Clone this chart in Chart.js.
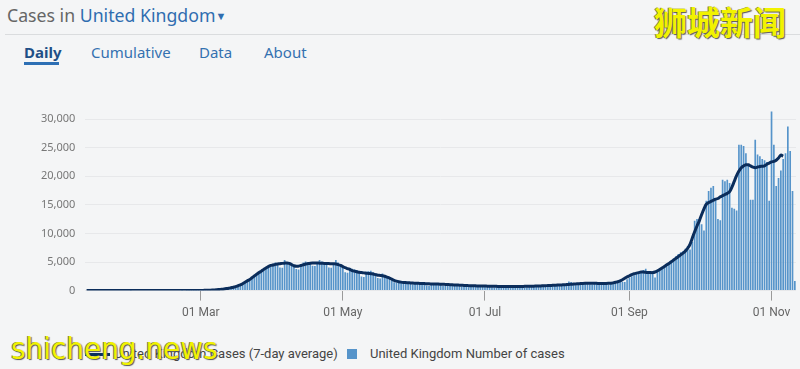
<!DOCTYPE html>
<html>
<head>
<meta charset="utf-8">
<script src="https://cdn.jsdelivr.net/npm/chart.js@4.4.0/dist/chart.umd.min.js"></script>
<style>
  body { margin: 0; width: 800px; height: 369px; background: #f4f5f6; position: relative; overflow: hidden; font-family: "Noto Sans", sans-serif; }
  #title { position: absolute; left: 7px; top: 1px; font-size: 17.7px; line-height: 28px; color: #666; }
  #title span { color: #2f6db0; }
  #title .caret { font-size: 11px; position: relative; top: -2px; }
  #rule { position: absolute; left: 5px; right: 0; top: 34px; border-top: 1px solid #dadcde; }
  .tab { position: absolute; top: 41px; font-size: 15px; line-height: 22px; color: #3471b0; }
  .tab.on { color: #1f4f86; font-weight: bold; }
  #bar { position: absolute; left: 24px; top: 62px; width: 35px; height: 3px; background: #2d6fb4; }
  #wrap { position: absolute; left: 0; top: 91px; width: 800px; height: 238px; }
  .leg { position: absolute; top: 345px; font-size: 13px; line-height: 18px; color: #444; font-family: "Liberation Sans Narrow", "Roboto", sans-serif; }
  .wm { position: absolute; color: #f2f200; text-shadow: 1px 1px 1px #555, -1px 0 0 #777; z-index: 5; }
</style>
</head>
<body>
<div id="title">Cases in <span>United Kingdom</span><span class="caret">&#9660;</span></div>
<div id="rule"></div>
<div class="tab on" style="left:24px">Daily</div>
<div class="tab" style="left:91px">Cumulative</div>
<div class="tab" style="left:199px">Data</div>
<div class="tab" style="left:264px">About</div>
<div id="bar"></div>
<div id="wrap"><canvas id="chart"></canvas></div>
<div style="position:absolute;left:85px;top:353px;width:25px;height:3px;background:#0b2d5b"></div>
<div class="leg" style="left:114px">United Kingdom Cases (7-day average)</div>
<div style="position:absolute;left:347px;top:349px;width:10px;height:10px;background:#5694ca"></div>
<div class="leg" style="left:370px">United Kingdom Number of cases</div>
<div class="wm" style="left:654px;top:-3px;font-size:33px;font-family:'Noto Sans CJK SC';font-weight:bold">狮城新闻</div>
<div class="wm" style="left:11px;top:330px;font-size:31px;font-family:'Liberation Sans Narrow','DejaVu Sans Condensed',sans-serif">shicheng.news</div>

<script>
// daily cases, one list per month (first day shown: 12 Jan 2020)
var janCases = [0,0,0,0,0,0,0,0,0,0,0,0,0,0,0,0,0,0,0,2];
var febCases = [0,0,0,0,0,0,0,0,0,0,0,0,0,0,0,0,0,0,0,0,0,3,0,4,5,8,12,15,20];
var marCases = [20,30,40,55,80,90,90,150,200,230,300,350,380,420,530,650,800,950,1200,1400,1550,1800,2200,2600,2900,3200,3300,3500,3900,4300,4600];
var aprCases = [4700,4900,4800,4060,4000,5340,5000,4900,4700,4200,3770,3700,4600,4900,5100,5000,4800,4350,4300,4900,5340,5100,4900,4600,4060,4000,4800,5340,4900,4600];
var mayCases = [4300,3200,3100,4000,3800,3700,3600,3300,2450,2400,3300,3400,3480,3200,3000,2200,2100,3000,2700,2500,2300,1800,1450,1400,1600,1700,1600,1500,1450,1150,1100];
var junCases = [1500,1450,1400,1350,1250,900,850,1300,1300,1250,1200,1150,850,800,1150,1150,1100,1050,1000,750,700,1000,1000,950,950,900,650,650,900,900];
var julCases = [850,850,800,600,550,800,800,750,750,700,550,550,750,750,750,760,760,600,580,800,820,830,850,850,650,650,900,950,950,1000,1000];
var augCases = [800,800,1050,1100,1150,1600,1500,1000,950,1300,1350,1350,1350,1350,1100,1050,1350,1350,1300,1300,1300,1050,1050,1400,1500,1550,1600,1700,1500,1500,2000];
var sepCases = [2300,2500,2700,2900,3000,3100,3600,3800,3300,3200,3100,2300,3300,3600,3900,4300,4600,4900,5200,5600,6000,6400,6700,6900,7300,7800,7200,8500,12200,12500];
var octCases = [12500,11600,10500,15700,17400,18000,18300,16000,12500,12300,19400,19100,19400,18800,14500,14300,14000,25500,25500,25300,24000,22000,15900,15900,26400,23800,23500,23000,22800,22500,15700];
var novCases = [31300,25500,18300,19700,21000,23000,24000,28700,24400,17400,1700];

// 7-day average, same months
var janAvg = [0,0,0,0,0,0,0,0,0,0,0,0,0,0,0,0,0,0,0,0];
var febAvg = [0,0,0,0,0,0,0,0,0,0,0,0,0,0,0,0,0,0,0,0,0,1,1,2,2,3,5,7,10];
var marAvg = [30,35,45,55,70,90,120,160,200,240,290,350,420,500,580,700,850,1000,1200,1450,1700,1950,2250,2550,2850,3150,3400,3700,3950,4200,4400];
var aprAvg = [4470,4580,4650,4700,4760,4800,4830,4750,4550,4350,4240,4280,4380,4500,4650,4720,4780,4820,4840,4830,4800,4780,4760,4740,4720,4700,4680,4650,4550,4400];
var mayAvg = [4200,4000,3850,3700,3500,3400,3300,3200,3150,3100,3050,3000,2950,2900,2800,2700,2650,2600,2500,2350,2200,2000,1800,1650,1550,1480,1430,1400,1380,1350,1320];
var junAvg = [1300,1280,1260,1240,1220,1200,1180,1170,1160,1150,1140,1120,1100,1080,1060,1040,1010,990,970,950,930,910,890,870,850,840,830,820,810,800];
var julAvg = [790,780,770,760,750,740,730,720,710,700,700,700,700,700,710,720,730,740,750,760,770,780,790,800,820,840,860,880,900,920,940];
var augAvg = [960,980,1000,1020,1050,1080,1110,1140,1170,1200,1230,1260,1280,1290,1300,1300,1290,1270,1250,1240,1240,1250,1270,1300,1350,1450,1550,1700,1900,2150,2400];
var sepAvg = [2600,2800,2950,3050,3150,3250,3250,3200,3150,3150,3150,3250,3450,3700,3950,4200,4500,4750,5050,5350,5650,5950,6250,6550,6900,7400,8100,9200,10300,11300];
var octAvg = [12200,13300,14300,15100,15400,15600,15800,16000,16100,16400,16600,16800,17000,17300,18100,19100,20100,20900,21500,21800,22000,22000,21800,21600,21500,21600,21700,21750,21800,22100,22300];
var novAvg = [22500,22600,22800,23200,23700,23500,null,null,null,null,null];

var tickMonths = ['Mar', 'May', 'Jul', 'Sep', 'Nov'];
var yTicks = [0, 5000, 10000, 15000, 20000, 25000, 30000];

var cases = [].concat(janCases, febCases, marCases, aprCases, mayCases, junCases, julCases, augCases, sepCases, octCases, novCases);
var avg = [].concat(janAvg, febAvg, marAvg, aprAvg, mayAvg, junAvg, julAvg, augAvg, sepAvg, octAvg, novAvg);

var monthNames = ['Jan','Feb','Mar','Apr','May','Jun','Jul','Aug','Sep','Oct','Nov','Dec'];
var labels = [];
for (var i = 0; i < cases.length; i++) {
    var d = new Date(Date.UTC(2020, 0, 12 + i));
    labels.push(String(d.getUTCDate()).padStart(2, '0') + ' ' + monthNames[d.getUTCMonth()]);
}

var ctx = document.getElementById('chart');
var grafico = new Chart(ctx, {
    type: 'bar',
    data: {
        labels: labels,
        datasets: [{
            type: 'line',
            label: 'United Kingdom Cases (7-day average)',
            data: avg,
            borderColor: '#0b2d5b',
            borderWidth: 3,
            pointRadius: 0,
            tension: 0.35,
            spanGaps: false,
            order: 0
        }, {
            label: 'United Kingdom Number of cases',
            data: cases,
            backgroundColor: '#5694ca',
            barPercentage: 0.72,
            categoryPercentage: 1,
            order: 1
        }]
    },
    options: {
        responsive: true,
        maintainAspectRatio: false,
        animation: false,
        layout: { padding: { left: 31, right: 4, top: 4, bottom: 4 } },
        plugins: { legend: { display: false }, tooltip: { enabled: false } },
        scales: {
            x: {
                offset: true,
                grid: { offset: false, drawOnChartArea: false, tickLength: 10, color: '#9a9a9a' },
                border: { display: false },
                afterBuildTicks: function (axis) {
                    axis.ticks = axis.ticks.filter(function (t) {
                        var l = labels[t.value];
                        return l.slice(0, 2) === '01' && tickMonths.indexOf(l.slice(3)) >= 0;
                    });
                },
                ticks: {
                    autoSkip: false,
                    maxRotation: 0,
                    padding: 5,
                    color: '#666',
                    font: { family: 'Liberation Sans Narrow, Roboto, sans-serif', size: 12 },
                    callback: function (v) { return labels[v]; }
                }
            },
            y: {
                min: 0,
                max: 32000,
                afterBuildTicks: function (axis) {
                    axis.ticks = yTicks.map(function (v) { return { value: v }; });
                },
                grid: { color: '#e7e8ea', drawTicks: false },
                border: { display: false },
                ticks: {
                    padding: 10,
                    color: '#777',
                    font: { family: 'Noto Sans, sans-serif', size: 11 },
                    callback: function (v) { return v.toLocaleString('en-GB'); }
                }
            }
        }
    }
});
</script>
</body>
</html>
